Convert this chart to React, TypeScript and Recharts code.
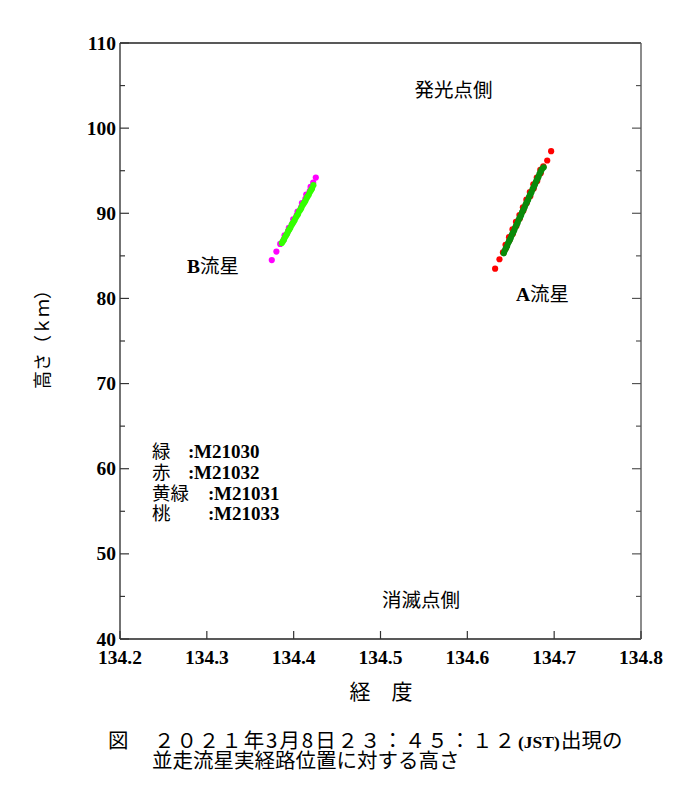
import { ScatterChart, Scatter, XAxis, YAxis } from 'recharts';

// 経度の目盛り (度) と高さの目盛り (km)
const lonTicks = [134.2, 134.3, 134.4, 134.5, 134.6, 134.7, 134.8];
const altTicks = [40, 45, 50, 55, 60, 65, 70, 75, 80, 85, 90, 95, 100, 105, 110];

// 赤 : M21032 (A流星)
const redLon = [
  134.632, 134.637, 134.641, 134.6445, 134.644, 134.6485, 134.648, 134.6525, 134.652, 134.6565,
  134.656, 134.6605, 134.660, 134.6645, 134.664, 134.6685, 134.668, 134.6725, 134.672, 134.6765,
  134.676, 134.6805, 134.680, 134.6845, 134.684, 134.6875, 134.692, 134.6965,
];
const redAlt = [
  83.5, 84.6, 85.4, 85.9, 86.3, 86.8, 87.2, 87.6, 88.1, 88.5,
  89.0, 89.4, 89.8, 90.3, 90.7, 91.2, 91.6, 92.0, 92.5, 92.9,
  93.4, 93.8, 94.2, 94.7, 95.1, 95.5, 96.2, 97.3,
];

// 緑 : M21030 (A流星)
const greenLon = [
  134.642, 134.643, 134.644, 134.645, 134.646, 134.647, 134.648, 134.649, 134.650, 134.651,
  134.652, 134.653, 134.654, 134.655, 134.656, 134.657, 134.658, 134.659, 134.660, 134.661,
  134.662, 134.663, 134.664, 134.665, 134.666, 134.667, 134.668, 134.669, 134.670, 134.671,
  134.672, 134.673, 134.674, 134.675, 134.676, 134.677, 134.678, 134.679, 134.680, 134.681,
  134.682, 134.683, 134.684, 134.685, 134.686, 134.688,
];
const greenAlt = [
  85.3, 85.6, 85.8, 86.0, 86.2, 86.5, 86.7, 86.9, 87.1, 87.4,
  87.6, 87.8, 88.0, 88.3, 88.5, 88.7, 88.9, 89.2, 89.4, 89.6,
  89.8, 90.1, 90.3, 90.5, 90.7, 91.0, 91.2, 91.4, 91.6, 91.9,
  92.1, 92.3, 92.5, 92.8, 93.0, 93.2, 93.4, 93.7, 93.9, 94.1,
  94.3, 94.6, 94.8, 95.0, 95.2, 95.4,
];

// 桃 : M21033 (B流星)
const pinkLon = [
  134.3748, 134.3801, 134.3845, 134.3885, 134.3895, 134.3935, 134.3945, 134.3985, 134.3995, 134.4035,
  134.4045, 134.4085, 134.4095, 134.4135, 134.4145, 134.4185, 134.4195, 134.4225, 134.4255,
];
const pinkAlt = [
  84.5, 85.5, 86.4, 86.9, 87.4, 87.9, 88.3, 88.8, 89.3, 89.8,
  90.2, 90.7, 91.2, 91.7, 92.2, 92.6, 93.1, 93.6, 94.2,
];

// 黄緑 : M21031 (B流星)
const limeLon = [
  134.3863, 134.3875, 134.3888, 134.39, 134.3912, 134.3925, 134.3937, 134.395, 134.3962, 134.3975,
  134.3987, 134.4, 134.4012, 134.4025, 134.4037, 134.405, 134.4062, 134.4075, 134.4087, 134.41,
  134.4112, 134.4125, 134.4137, 134.415, 134.4162, 134.4175, 134.4187, 134.42, 134.4212, 134.4227,
];
const limeAlt = [
  86.5, 86.7, 86.9, 87.2, 87.4, 87.6, 87.9, 88.1, 88.3, 88.6,
  88.8, 89.0, 89.2, 89.5, 89.7, 89.9, 90.2, 90.4, 90.6, 90.9,
  91.1, 91.3, 91.5, 91.8, 92.0, 92.2, 92.5, 92.7, 92.9, 93.3,
];

const toPoints = (lon: number[], alt: number[]) => lon.map((x, i) => ({ x, y: alt[i] }));

const SERIF = '"Liberation Serif", "Times New Roman", serif';
const JP = '"Noto Sans CJK JP", "Noto Sans", sans-serif';

const dot = (color: string, r: number) => (props: any) =>
  <circle cx={props.cx} cy={props.cy} r={r} fill={color} />;

const BottomTick = (props: any) => {
  const { x, y, payload } = props;
  return (
    <g>
      <line x1={x} y1={y} x2={x} y2={y - 8} stroke="#333" strokeWidth={1.2} />
      <text x={x} y={y + 25} textAnchor="middle" fontFamily={SERIF} fontWeight="bold" fontSize={19.5} fill="#000">
        {Number(payload.value).toFixed(1)}
      </text>
    </g>
  );
};

const TopTick = (props: any) => {
  const { x, y } = props;
  return <line x1={x} y1={y} x2={x} y2={y + 8} stroke="#333" strokeWidth={1.2} />;
};

const LeftTick = (props: any) => {
  const { x, y, payload } = props;
  const major = payload.value % 10 === 0;
  return (
    <g>
      <line x1={x} y1={y} x2={x + (major ? 9 : 5)} y2={y} stroke="#333" strokeWidth={1.2} />
      {major && (
        <text x={x - 4} y={y + 6.5} textAnchor="end" fontFamily={SERIF} fontWeight="bold" fontSize={19.5} fill="#000">
          {payload.value}
        </text>
      )}
    </g>
  );
};

const RightTick = (props: any) => {
  const { x, y, payload } = props;
  const major = payload.value % 10 === 0;
  return <line x1={x} y1={y} x2={x - (major ? 9 : 5)} y2={y} stroke="#555" strokeWidth={1.2} />;
};

export default function App() {
  return (
    <div style={{ position: 'relative', width: 670, height: 780 }}>
      <ScatterChart width={670} height={700} margin={{ top: 25, right: 27, bottom: 39, left: 52 }}>
        <XAxis
          dataKey="x"
          type="number"
          domain={[134.2, 134.8]}
          ticks={lonTicks}
          allowDataOverflow
          height={30}
          tickSize={0}
          tickMargin={0}
          tickLine={false}
          axisLine={{ stroke: '#222', strokeWidth: 1.5 }}
          tick={BottomTick}
          interval={0}
        />
        <XAxis
          xAxisId="top"
          orientation="top"
          type="number"
          domain={[134.2, 134.8]}
          ticks={lonTicks}
          allowDataOverflow
          height={10}
          tickSize={0}
          tickMargin={0}
          tickLine={false}
          axisLine={{ stroke: '#222', strokeWidth: 1.5 }}
          tick={TopTick}
          interval={0}
        />
        <YAxis
          dataKey="y"
          type="number"
          domain={[40, 110]}
          ticks={altTicks}
          allowDataOverflow
          width={60}
          tickSize={0}
          tickMargin={0}
          tickLine={false}
          axisLine={{ stroke: '#444', strokeWidth: 1.5 }}
          tick={LeftTick}
          interval={0}
        />
        <YAxis
          yAxisId="right"
          orientation="right"
          type="number"
          domain={[40, 110]}
          ticks={altTicks}
          allowDataOverflow
          width={10}
          tickSize={0}
          tickMargin={0}
          tickLine={false}
          axisLine={{ stroke: '#666', strokeWidth: 1.5 }}
          tick={RightTick}
          interval={0}
        />
        <Scatter data={toPoints(redLon, redAlt)} shape={dot('#ff0000', 3.1)} isAnimationActive={false} />
        <Scatter data={toPoints(greenLon, greenAlt)} shape={dot('#0a8a0a', 3.1)} isAnimationActive={false} />
        <Scatter data={toPoints(pinkLon, pinkAlt)} shape={dot('#ff00ff', 3.1)} isAnimationActive={false} />
        <Scatter data={toPoints(limeLon, limeAlt)} shape={dot('#33ff00', 3.1)} isAnimationActive={false} />
      </ScatterChart>

      <svg width={670} height={780} style={{ position: 'absolute', left: 0, top: 0, pointerEvents: 'none' }}>
        <g fill="#000" fontFamily={JP} fontSize={19.5}>
          <text x={445.5} y={89} textAnchor="middle">発光点側</text>
          <text x={413} y={599} textAnchor="middle">消滅点側</text>
          <text x={179} y={265}>
            <tspan fontFamily={SERIF} fontWeight="bold">B</tspan>流星
          </text>
          <text x={508} y={293}>
            <tspan fontFamily={SERIF} fontWeight="bold">A</tspan>流星
          </text>

          <g fontSize={18.5}>
            <text x={144} y={449.5}>緑</text>
            <text x={144} y={470.5}>赤</text>
            <text x={144} y={491.5}>黄緑</text>
            <text x={144} y={511.5}>桃</text>
          </g>
          <g fontFamily={SERIF} fontWeight="bold" fontSize={19}>
            <text x={180} y={449.5}>:</text>
            <text x={186} y={449.5}>M21030</text>
            <text x={180} y={470.5}>:</text>
            <text x={186} y={470.5}>M21032</text>
            <text x={200} y={491.5}>:</text>
            <text x={206} y={491.5}>M21031</text>
            <text x={200} y={511.5}>:</text>
            <text x={206} y={511.5}>M21033</text>
          </g>

          <text transform="translate(41,327) rotate(-90)" textAnchor="middle" fontSize={18}>高さ（ｋｍ）</text>
          <text x={373} y={691} textAnchor="middle" fontSize={21}>経　度</text>

          <g fontSize={20.5}>
            <text x={100} y={739.5}>図</text>
            <text x={146} y={739.5} textLength={361} lengthAdjust="spacing">２０２１年3月8日２３：４５：１２</text>
            <text x={510} y={739.5} fontFamily={SERIF} fontWeight="bold" fontSize={17.5}>(JST)</text>
            <text x={553} y={739.5}>出現の</text>
            <text x={144} y={760}>並走流星実経路位置に対する高さ</text>
          </g>
        </g>
      </svg>
    </div>
  );
}
